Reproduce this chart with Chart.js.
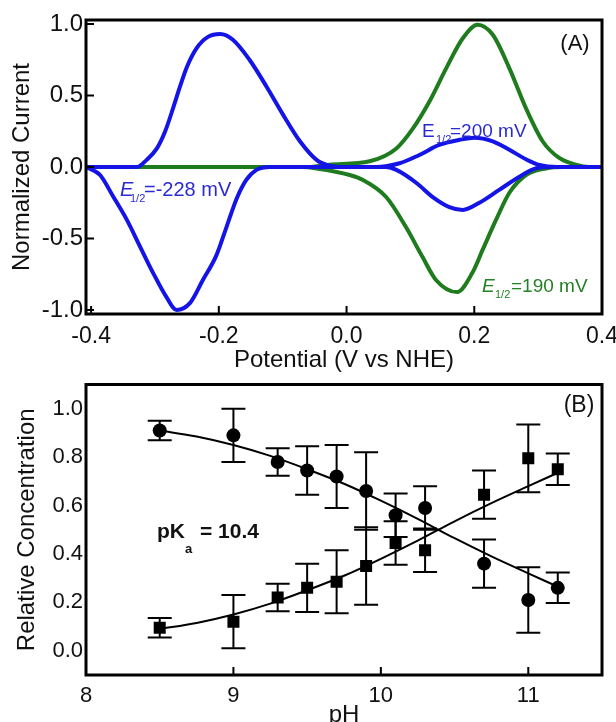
<!DOCTYPE html>
<html>
<head>
<meta charset="utf-8">
<script src="https://cdn.jsdelivr.net/npm/chart.js@4.4.0/dist/chart.umd.min.js"></script>
<style>
  body { margin: 0; background: #fff; width: 616px; height: 722px; position: relative; overflow: hidden; }
  #wrapA { position: absolute; left: 0; top: 0; }
  #wrapB { position: absolute; left: 0; top: 376px; }
</style>
</head>
<body>
<div id="wrapA"><canvas id="cvA" width="616" height="376"></canvas></div>
<div id="wrapB"><canvas id="cvB" width="616" height="360"></canvas></div>
<script>
// ---- panel A : cyclic voltammograms (potential V vs NHE / normalized current) ----
const blueFwdV = [-0.408, -0.328, -0.313, -0.297, -0.284, -0.271, -0.261, -0.250, -0.235, -0.217, -0.198, -0.178, -0.152, -0.125, -0.100, -0.073, -0.047, -0.027, 0.000, 0.046, 0.083, 0.114, 0.145, 0.177, 0.200, 0.229, 0.255, 0.281, 0.302, 0.330, 0.400];
const blueFwdI = [0, 0, 0.05, 0.13, 0.25, 0.42, 0.56, 0.70, 0.83, 0.91, 0.93, 0.89, 0.75, 0.56, 0.37, 0.18, 0.05, 0.01, 0, 0, 0.026, 0.084, 0.154, 0.19, 0.205, 0.18, 0.12, 0.054, 0.014, 0, 0];
const blueRevV = [-0.408, -0.386, -0.365, -0.344, -0.323, -0.303, -0.282, -0.266, -0.245, -0.225, -0.204, -0.188, -0.172, -0.157, -0.141, -0.120, 0.000, 0.062, 0.078, 0.109, 0.135, 0.161, 0.182, 0.208, 0.239, 0.270, 0.296, 0.320, 0.400];
const blueRevI = [0, -0.056, -0.21, -0.37, -0.56, -0.74, -0.91, -1.0, -0.95, -0.79, -0.62, -0.42, -0.22, -0.09, -0.02, 0, 0, 0, -0.02, -0.11, -0.21, -0.28, -0.30, -0.25, -0.16, -0.07, -0.01, 0, 0];
const greenFwdV = [-0.408, -0.060, -0.027, 0.036, 0.078, 0.104, 0.130, 0.156, 0.182, 0.205, 0.229, 0.255, 0.281, 0.307, 0.333, 0.359, 0.380, 0.400];
const greenFwdI = [0, 0, 0.016, 0.04, 0.13, 0.27, 0.46, 0.69, 0.90, 0.995, 0.925, 0.69, 0.41, 0.18, 0.063, 0.016, 0, 0];
const greenRevV = [-0.408, -0.070, -0.047, 0.005, 0.025, 0.062, 0.093, 0.119, 0.140, 0.173, 0.197, 0.213, 0.234, 0.255, 0.281, 0.312, 0.340, 0.400];
const greenRevI = [0, 0, -0.01, -0.056, -0.09, -0.21, -0.42, -0.63, -0.79, -0.875, -0.74, -0.58, -0.37, -0.18, -0.056, -0.01, 0, 0];
const potentialTicks = [-0.4, -0.2, 0, 0.2, 0.4];
const currentTicks = [-1, -0.5, 0, 0.5, 1];

// ---- panel B : relative concentration vs pH ----
const phValues = [8.5, 9.0, 9.3, 9.5, 9.7, 9.9, 10.1, 10.3, 10.7, 11.0, 11.2];
const circleConc = [0.91, 0.89, 0.78, 0.745, 0.72, 0.66, 0.56, 0.59, 0.36, 0.21, 0.26];
const circleErr = [0.04, 0.11, 0.057, 0.10, 0.13, 0.16, 0.09, 0.09, 0.10, 0.135, 0.063];
const squareConc = [0.095, 0.12, 0.22, 0.26, 0.285, 0.35, 0.445, 0.415, 0.645, 0.795, 0.75];
const squareErr = [0.04, 0.11, 0.057, 0.10, 0.13, 0.16, 0.09, 0.09, 0.10, 0.14, 0.065];
const fitPH = [8.5, 8.75, 9.0, 9.25, 9.5, 9.75, 10.0, 10.25, 10.5, 10.75, 11.0, 11.2];
const circleFit = [0.91, 0.885, 0.85, 0.805, 0.75, 0.69, 0.62, 0.545, 0.465, 0.39, 0.32, 0.265];
const squareFit = [0.09, 0.115, 0.15, 0.195, 0.25, 0.31, 0.38, 0.455, 0.535, 0.61, 0.68, 0.735];
const phTicks = [8, 9, 10, 11];
const concTicks = [0, 0.2, 0.4, 0.6, 0.8, 1.0];

const FONT = '"Liberation Sans", Arial, sans-serif';
const BLUE = '#1414e6';
const GREEN = '#1e7b1e';

const pts = (xs, ys) => xs.map((x, i) => ({ x: x, y: ys[i] }));

function curve(xs, ys, color, width, order) {
    return {
        data: pts(xs, ys),
        showLine: true,
        borderColor: color,
        borderWidth: width,
        pointRadius: 0,
        cubicInterpolationMode: 'monotone',
        order: order
    };
}

// frame box + inward tick marks
const framePlugin = {
    id: 'frame',
    afterDatasetsDraw(chart, args, opts) {
        const { ctx, chartArea: a, scales: { x, y } } = chart;
        ctx.save();
        ctx.strokeStyle = '#000';
        ctx.lineWidth = 2;
        ctx.beginPath();
        (opts.xTicks || []).forEach(v => {
            const px = x.getPixelForValue(v);
            ctx.moveTo(px, a.bottom);
            ctx.lineTo(px, a.bottom - 8);
        });
        (opts.yTicks || []).forEach(v => {
            const py = y.getPixelForValue(v);
            ctx.moveTo(a.left, py);
            ctx.lineTo(a.left + 8, py);
        });
        ctx.stroke();
        ctx.lineWidth = 3;
        ctx.strokeRect(a.left, a.top, a.right - a.left, a.bottom - a.top);
        ctx.restore();
    }
};

// E1/2 style labels
function subLabel(ctx, parts, color) {
    ctx.fillStyle = color;
    ctx.textBaseline = 'alphabetic';
    ctx.textAlign = 'left';
    parts.forEach(p => {
        ctx.font = p.font;
        ctx.fillText(p.text, p.x, p.y);
    });
}

const labelsA = {
    id: 'labelsA',
    afterDraw(chart) {
        const ctx = chart.ctx;
        ctx.save();
        subLabel(ctx, [
            { text: 'E', x: 120, y: 196, font: 'italic 20px ' + FONT },
            { text: '1/2', x: 130, y: 202, font: '11px ' + FONT },
            { text: '=-228 mV', x: 144, y: 196, font: '20px ' + FONT }
        ], '#2a2ad2');
        subLabel(ctx, [
            { text: 'E', x: 422, y: 137, font: '19px ' + FONT },
            { text: '1/2', x: 436, y: 143, font: '11px ' + FONT },
            { text: '=200 mV', x: 450, y: 137, font: '19px ' + FONT }
        ], '#2a2ad2');
        subLabel(ctx, [
            { text: 'E', x: 482, y: 292, font: 'italic 19px ' + FONT },
            { text: '1/2', x: 495, y: 298, font: '11px ' + FONT },
            { text: '=190 mV', x: 511, y: 292, font: '19px ' + FONT }
        ], '#238023');
        ctx.font = '22px ' + FONT;
        ctx.fillStyle = '#111';
        ctx.textAlign = 'center';
        ctx.textBaseline = 'middle';
        ctx.fillText('(A)', 575, 44);
        ctx.restore();
    }
};

const labelsB = {
    id: 'labelsB',
    beforeDatasetsDraw(chart) {
        // error bars
        const { ctx, scales: { x, y } } = chart;
        ctx.save();
        ctx.strokeStyle = '#000';
        ctx.lineWidth = 2;
        const bars = (vals, errs) => phValues.forEach((ph, i) => {
            const px = x.getPixelForValue(ph);
            const top = y.getPixelForValue(vals[i] + errs[i]);
            const bot = y.getPixelForValue(vals[i] - errs[i]);
            ctx.beginPath();
            ctx.moveTo(px, top); ctx.lineTo(px, bot);
            ctx.moveTo(px - 12, top); ctx.lineTo(px + 12, top);
            ctx.moveTo(px - 12, bot); ctx.lineTo(px + 12, bot);
            ctx.stroke();
        });
        bars(circleConc, circleErr);
        bars(squareConc, squareErr);
        ctx.restore();
    },
    afterDraw(chart) {
        const ctx = chart.ctx;
        ctx.save();
        subLabel(ctx, [
            { text: 'pK', x: 157, y: 162, font: 'bold 21px ' + FONT },
            { text: 'a', x: 185, y: 177, font: 'bold 13px ' + FONT },
            { text: '= 10.4', x: 200, y: 162, font: 'bold 21px ' + FONT }
        ], '#111');
        ctx.font = '23px ' + FONT;
        ctx.fillStyle = '#111';
        ctx.textAlign = 'center';
        ctx.textBaseline = 'middle';
        ctx.fillText('(B)', 579, 30);
        ctx.restore();
    }
};

function axisX(min, max, tickList, title, height, tickSize, tickPad, titlePad, fmt) {
    return {
        type: 'linear', min: min, max: max,
        grid: { display: false, drawTicks: false },
        border: { display: false },
        afterBuildTicks: s => { s.ticks = tickList.map(v => ({ value: v })); },
        afterFit: s => { s.height = height; s.paddingLeft = 0; s.paddingRight = 0; s.paddingTop = 0; s.paddingBottom = 0; },
        ticks: { autoSkip: false, maxRotation: 0, padding: tickPad, color: '#111', font: { size: tickSize, family: FONT }, callback: fmt },
        title: { display: true, text: title, color: '#111', font: { size: 24, family: FONT }, padding: { top: 0, bottom: titlePad } }
    };
}

function axisY(min, max, tickList, title, tickSize, titlePad) {
    return {
        type: 'linear', min: min, max: max,
        grid: { display: false, drawTicks: false },
        border: { display: false },
        afterBuildTicks: s => { s.ticks = tickList.map(v => ({ value: v })); },
        afterFit: s => { s.width = 86; s.paddingLeft = 0; s.paddingRight = 0; s.paddingTop = 0; s.paddingBottom = 0; },
        ticks: { autoSkip: false, padding: 3, color: '#111', font: { size: tickSize, family: FONT }, callback: v => v.toFixed(1) },
        title: { display: true, text: title, color: '#111', font: { size: 24, family: FONT }, padding: { top: titlePad, bottom: 0 } }
    };
}

const common = {
    responsive: false,
    animation: false,
    events: [],
    plugins: { legend: { display: false }, tooltip: { enabled: false } }
};

new Chart(document.getElementById('cvA'), {
    type: 'scatter',
    data: {
        datasets: [
            curve(greenFwdV, greenFwdI, GREEN, 4, 2),
            curve(greenRevV, greenRevI, GREEN, 4, 2),
            curve(blueFwdV, blueFwdI, BLUE, 4, 1),
            curve(blueRevV, blueRevI, BLUE, 4, 1)
        ]
    },
    options: {
        ...common,
        layout: { padding: { top: 20, right: 14, left: 0, bottom: 0 } },
        plugins: { ...common.plugins, frame: { xTicks: potentialTicks, yTicks: currentTicks } },
        scales: {
            x: axisX(-0.408, 0.4, potentialTicks, 'Potential (V vs NHE)', 62, 23, 9, 1, v => v.toFixed(1)),
            y: axisY(-1.028, 1.028, currentTicks, 'Normalized Current', 24, 8)
        }
    },
    plugins: [framePlugin, labelsA]
});

new Chart(document.getElementById('cvB'), {
    type: 'scatter',
    data: {
        datasets: [
            curve(fitPH, circleFit, '#000', 2, 3),
            curve(fitPH, squareFit, '#000', 2, 3),
            { data: pts(phValues, circleConc), pointStyle: 'circle', pointRadius: 7, backgroundColor: '#000', borderColor: '#000', borderWidth: 0, order: 1 },
            { data: pts(phValues, squareConc), pointStyle: 'rect', pointRadius: 8.5, backgroundColor: '#000', borderColor: '#000', borderWidth: 0, order: 1 }
        ]
    },
    options: {
        ...common,
        layout: { padding: { top: 5, right: 14, left: 0, bottom: 0 } },
        plugins: { ...common.plugins, frame: { xTicks: phTicks, yTicks: [] } },
        scales: {
            x: axisX(8, 11.5, phTicks, 'pH', 61, 22, 8, 6, v => String(v)),
            y: axisY(-0.1, 1.1, concTicks, 'Relative Concentration', 22, 13)
        }
    },
    plugins: [framePlugin, labelsB]
});
</script>
</body>
</html>
